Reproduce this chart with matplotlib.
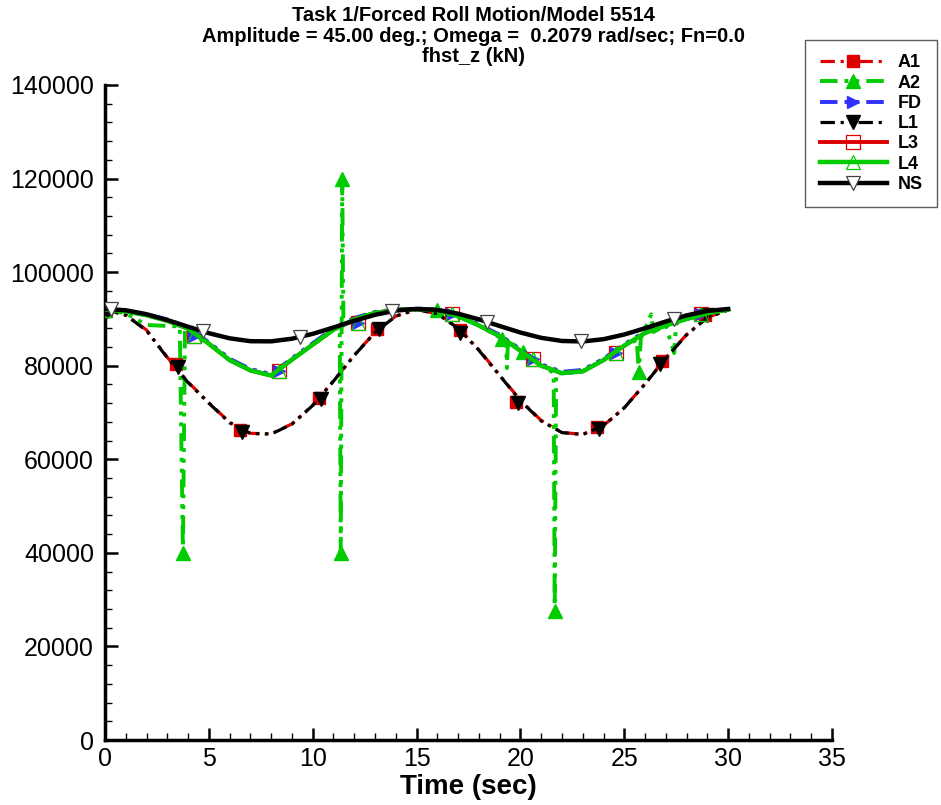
import numpy as np
import matplotlib
matplotlib.use('Agg')
import matplotlib.pyplot as plt
from matplotlib.lines import Line2D
from matplotlib import font_manager
from matplotlib.ticker import MultipleLocator

# ---- data (time in sec, force in kN) ----
t = [0, 1, 2, 3, 4, 5, 6, 7, 8, 9, 10, 11, 12, 13, 14, 15,
     16, 17, 18, 19, 20, 21, 22, 23, 24, 25, 26, 27, 28, 29, 30]

ns_y = [92150, 91850, 91010, 89760, 88330, 86950, 85860, 85240, 85210, 85770,
        86810, 88170, 89600, 90880, 91790, 92150, 91910, 91120, 89910, 88490,
        87090, 85960, 85290, 85180, 85670, 86670, 88010, 89450, 90760, 91710, 92130]

a1_y = [92000, 90860, 87630, 81800, 76500, 72080, 67900, 65550, 65430, 67560,
        71570, 76750, 82250, 87150, 90610, 91990, 91090, 88080, 83430, 77980,
        72630, 68300, 65720, 65330, 67210, 71030, 76130, 81670, 86660, 90320, 91940]
l1_y = [92000, 90800, 87500, 81700, 76400, 72000, 67800, 65500, 65400, 67500,
        71500, 76700, 82200, 87100, 90600, 92000, 91100, 88000, 83300, 77900,
        72500, 68200, 65700, 65300, 67200, 71000, 76100, 81600, 86600, 90300, 91900]

fd_y = [92000, 91700, 91000, 89900, 88200, 85000, 81500, 79300, 78200, 81600,
        84800, 88000, 90200, 91500, 92000, 92200, 92100, 90800, 88900, 86600,
        83500, 80300, 78700, 79100, 81500, 84600, 87300, 88900, 90300, 91400, 92100]
l3_y = [92000, 91600, 90800, 89600, 87900, 84700, 81200, 79000, 77900, 81300,
        84500, 87700, 89900, 91300, 91900, 92100, 91900, 90600, 88600, 86300,
        83200, 80000, 78400, 78800, 81200, 84300, 87000, 88600, 90000, 91200, 92000]
l4_y = l3_y

a2_t = [0, 1, 2, 3, 3.6, 3.75, 3.85, 4.3, 5, 6, 7, 8, 9, 10, 11, 11.3, 11.35,
        11.42, 11.48, 12, 13, 14, 15, 16, 17, 18, 19.1, 19.3, 19.35, 19.4, 20.1,
        21, 21.6, 21.65, 21.72, 22, 23, 24, 25, 25.6, 25.7, 25.8, 26.3, 26.4,
        27, 27.4, 27.5, 28, 29, 30]
a2_y = [92000, 91200, 88700, 88500, 88400, 40000, 87800, 86800, 84700, 81200,
        79000, 77900, 81300, 84500, 87700, 88400, 40000, 120000, 88800, 89900,
        91300, 91900, 92100, 91900, 90600, 88600, 85800, 85500, 79500, 85400,
        82900, 80000, 78500, 27500, 78400, 78400, 78800, 81200, 84300, 85500,
        78700, 86000, 91000, 87200, 88600, 82700, 89000, 90000, 91200, 92000]
a2_marks = [0, 5, 16, 17, 23, 26, 30, 33, 40]

# marker positions as seen on the reference
a1_mark_t = [0, 3.4, 6.5, 10.3, 13.1, 17.1, 19.8, 23.7, 26.8, 28.9]
a1_mark_y = [92000, 80300, 66300, 73000, 87800, 87700, 72300, 66900, 81000, 90800]
l1_mark_t = [0.1, 3.5, 6.6, 10.4, 13.2, 17.1, 19.9, 23.8, 26.7, 29.0]
l1_mark_y = [91800, 79700, 65900, 72800, 87900, 87000, 72000, 66500, 80400, 90900]
ns_mark_t = [0.3, 4.7, 9.4, 13.8, 18.4, 22.9, 27.4]
ns_mark_y = [92100, 87400, 86100, 91700, 89400, 85200, 89900]
fd_mark_t = [0, 4.3, 8.4, 12.2, 16.7, 20.6, 24.6, 28.7]
fd_mark_y = [92000, 86400, 78800, 89200, 91000, 81400, 82800, 91000]

labels = ['A1', 'A2', 'FD', 'L1', 'L3', 'L4', 'NS']

# ---- style ----
red = '#dd0000'
green = '#00cc00'
blue = '#3030ff'
dashdotdot = (0, (4.5, 1.8, 1, 1.8, 1, 1.8))

names = {f.name for f in font_manager.fontManager.ttflist}
narrow = 'Liberation Sans Narrow' if 'Liberation Sans Narrow' in names else None
plt.rcParams['font.family'] = 'Liberation Sans'

fig = plt.figure(figsize=(9.41, 8.05), dpi=100)
ax = fig.add_axes([105 / 941, 1 - 740 / 805, 727 / 941, 655 / 805])

# lines
ax.plot(t, a1_y, color=red, lw=2.3, ls=dashdotdot, zorder=3)
ax.plot(a1_mark_t, a1_mark_y, ls='none', marker='s', ms=8.5, mfc=red, mec=red, zorder=3)
ax.plot(a2_t, a2_y, color=green, lw=2.8, ls=dashdotdot, zorder=3,
        marker='^', ms=10, mfc=green, mec=green, markevery=a2_marks)
ax.plot(t, fd_y, color=blue, lw=2.8, ls=dashdotdot, zorder=3)
ax.plot(fd_mark_t, fd_mark_y, ls='none', marker='>', ms=9, mfc=blue, mec=blue, zorder=3)
ax.plot(t, l1_y, color='black', lw=2.3, ls=(3, (4.5, 1.8, 1, 1.8, 1, 1.8)), zorder=3)
ax.plot(l1_mark_t, l1_mark_y, ls='none', marker='v', ms=10, mfc='black', mec='black', zorder=3)
ax.plot(t, l3_y, color=red, lw=2.8, zorder=3)
ax.plot(fd_mark_t, fd_mark_y, ls='none', marker='s', ms=9.5, mfc='none', mec=red, mew=0.9, zorder=3)
ax.plot(t, l4_y, color=green, lw=3.2, zorder=3)
ax.plot(fd_mark_t, fd_mark_y, ls='none', marker='^', ms=10, mfc='none', mec=green, mew=0.9, zorder=3)
ax.plot(t, ns_y, color='black', lw=3.2, zorder=4)
ax.plot(ns_mark_t, ns_mark_y, ls='none', marker='v', ms=10, mfc='white', mec='#444444', mew=0.9, zorder=4)

# axes
ax.set_xlim(0, 35)
ax.set_ylim(0, 140000)
ax.xaxis.set_major_locator(MultipleLocator(5))
ax.xaxis.set_minor_locator(MultipleLocator(1))
ax.yaxis.set_major_locator(MultipleLocator(20000))
ax.yaxis.set_minor_locator(MultipleLocator(4000))
for s in ['top', 'right']:
    ax.spines[s].set_visible(False)
for s in ['left', 'bottom']:
    ax.spines[s].set_linewidth(2.5)
ax.tick_params(which='major', direction='in', length=9, width=1.8)
ax.tick_params(which='minor', direction='in', length=5, width=1)
ax.tick_params(axis='y', labelsize=18, pad=8)
ax.tick_params(axis='x', pad=5)
for lab in ax.get_xticklabels():
    if narrow:
        lab.set_fontfamily(narrow)
        lab.set_fontsize(21)
    else:
        lab.set_fontsize(18)
if narrow:
    ax.set_xlabel('Time (sec)', fontsize=24, fontweight='bold', family=narrow, labelpad=2)
else:
    ax.set_xlabel('Time (sec)', fontsize=20, fontweight='bold', labelpad=2)

fig.text(473 / 941, 1 - 36 / 805,
         'Task 1/Forced Roll Motion/Model 5514\n'
         'Amplitude = 45.00 deg.; Omega =  0.2079 rad/sec; Fn=0.0\n'
         'fhst_z (kN)',
         ha='center', va='center', fontsize=14.5, fontweight='bold', linespacing=1.12)

# legend
handles = [
    Line2D([], [], color=red, lw=2.3, ls=dashdotdot, marker='s', ms=9, mfc=red, mec=red),
    Line2D([], [], color=green, lw=2.8, ls=dashdotdot, marker='^', ms=10, mfc=green, mec=green),
    Line2D([], [], color=blue, lw=2.8, ls=dashdotdot, marker='>', ms=9, mfc=blue, mec=blue),
    Line2D([], [], color='black', lw=2.3, ls=dashdotdot, marker='v', ms=10, mfc='black', mec='black'),
    Line2D([], [], color=red, lw=2.8, marker='s', ms=10, mfc='none', mec=red, mew=0.9),
    Line2D([], [], color=green, lw=3.2, marker='^', ms=10, mfc='none', mec=green, mew=0.9),
    Line2D([], [], color='black', lw=3.2, marker='v', ms=10, mfc='white', mec='#444444', mew=0.9),
]
leg = fig.legend(handles, labels, loc='upper right', bbox_to_anchor=(937 / 941, 1 - 40 / 805),
                 borderaxespad=0, frameon=True, fancybox=False, numpoints=1,
                 handlelength=3.7, handletextpad=0.6, labelspacing=0.18,
                 prop={'weight': 'bold', 'size': 13}, borderpad=0.8)
leg.get_frame().set_edgecolor('#333333')
leg.get_frame().set_linewidth(1.0)

fig.savefig('out.png', dpi=100)
